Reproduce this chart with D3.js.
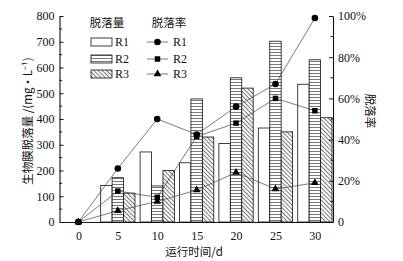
<!DOCTYPE html>
<html>
<head>
<meta charset="utf-8">
<script src="https://cdn.jsdelivr.net/npm/d3@7"></script>
<style>
  body { margin: 0; background: #fff; }
  text { font-family: "Liberation Serif", "Times New Roman", serif; fill: #111; }
  .cjk { font-family: "Noto Sans CJK SC", sans-serif; }
</style>
</head>
<body>
<div id="chart"></div>
<script>
// data
const days = [0, 5, 10, 15, 20, 25, 30];
const barDays = [5, 10, 15, 20, 25, 30];
const amountR1 = [142, 272, 230, 305, 365, 535];
const amountR2 = [172, 140, 478, 560, 702, 630];
const amountR3 = [112, 200, 330, 520, 350, 405];
const rateR1 = [0, 26, 50, 42.5, 56, 67, 99];
const rateR2 = [0, 15, 12, 41.5, 48, 60, 54];
const rateR3 = [0, 5.5, 10, 15.5, 24, 16, 19];
const seriesNames = ["R1", "R2", "R3"];
const leftTicks = [0, 100, 200, 300, 400, 500, 600, 700, 800];
const rightTicks = [0, 20, 40, 60, 80, 100];

const W = 403, H = 261;

let svg = d3.select("#chart").append("svg")
    .attr("width", W)
    .attr("height", H);

let defs = svg.append("defs");

let hp = defs.append("pattern")
    .attr("id", "hlines")
    .attr("patternUnits", "userSpaceOnUse")
    .attr("width", 6).attr("height", 3);
hp.append("rect").attr("width", 6).attr("height", 3).attr("fill", "#fff");
hp.append("line").attr("x1", 0).attr("x2", 6).attr("y1", 1.5).attr("y2", 1.5)
    .attr("stroke", "#555").attr("stroke-width", 0.8);

let dp = defs.append("pattern")
    .attr("id", "dlines")
    .attr("patternUnits", "userSpaceOnUse")
    .attr("width", 3).attr("height", 3)
    .attr("patternTransform", "rotate(-45)");
dp.append("rect").attr("width", 3).attr("height", 3).attr("fill", "#fff");
dp.append("line").attr("x1", 1.5).attr("x2", 1.5).attr("y1", 0).attr("y2", 3)
    .attr("stroke", "#555").attr("stroke-width", 0.8);

const fills = ["#fff", "url(#hlines)", "url(#dlines)"];

let x = d3.scaleLinear().domain([-2.4, 32.3]).range([59.5, 333]);
let y = d3.scaleLinear().domain([0, 800]).range([222, 16]);
let yr = d3.scaleLinear().domain([0, 100]).range([222, 16]);

// bars
const bw = 1.45;
const amounts = [amountR1, amountR2, amountR3];
amounts.forEach((vals, i) => {
    svg.append("g").selectAll("rect")
        .data(vals)
        .join("rect")
        .attr("x", (d, j) => x(barDays[j] + (i - 1) * bw - bw / 2))
        .attr("width", x(bw) - x(0))
        .attr("y", d => y(d))
        .attr("height", d => y(0) - y(d))
        .attr("fill", fills[i])
        .attr("stroke", "#111")
        .attr("stroke-width", 0.8);
});

// rate lines
const rates = [rateR1, rateR2, rateR3];
let line = d3.line()
    .x((d, j) => x(days[j]))
    .y(d => yr(d));

rates.forEach(vals => {
    svg.append("path")
        .datum(vals)
        .attr("d", line)
        .attr("fill", "none")
        .attr("stroke", "#444")
        .attr("stroke-width", 0.7);
});

const symbols = [
    d3.symbol().type(d3.symbolCircle).size(34),
    d3.symbol().type(d3.symbolSquare).size(30),
    d3.symbol().type(d3.symbolTriangle).size(26)
];
rates.forEach((vals, i) => {
    svg.append("g").selectAll("path")
        .data(vals)
        .join("path")
        .attr("d", symbols[i])
        .attr("transform", (d, j) => "translate(" + x(days[j]) + "," + yr(d) + ")")
        .attr("fill", "#000");
});

// axes
let leftAxis = svg.append("g")
    .attr("transform", "translate(" + x.range()[0] + ",0)")
    .call(d3.axisLeft(y).tickValues(leftTicks).tickSizeInner(-4).tickSizeOuter(0).tickPadding(5));
leftAxis.append("g").selectAll("line")
    .data(d3.range(50, 800, 100))
    .join("line")
    .attr("x1", 0).attr("x2", 2.5)
    .attr("y1", d => y(d)).attr("y2", d => y(d))
    .attr("stroke", "#111");

let rightAxis = svg.append("g")
    .attr("transform", "translate(" + x.range()[1] + ",0)")
    .call(d3.axisRight(yr).tickValues(rightTicks).tickSizeInner(-4).tickSizeOuter(0).tickPadding(5)
        .tickFormat(d => d === 0 ? "0" : d + "%"));
rightAxis.append("g").selectAll("line")
    .data(d3.range(10, 100, 20))
    .join("line")
    .attr("x1", 0).attr("x2", -2.5)
    .attr("y1", d => yr(d)).attr("y2", d => yr(d))
    .attr("stroke", "#111");

let bottomAxis = svg.append("g")
    .attr("transform", "translate(0," + y(0) + ")")
    .call(d3.axisBottom(x).tickValues(days).tickSize(0).tickPadding(9).tickSizeOuter(0));

[leftAxis, rightAxis, bottomAxis].forEach(a => {
    a.selectAll("text").style("font-family", "'Liberation Serif', serif").style("font-size", "12px").attr("fill", "#111");
    a.selectAll("path, line").attr("stroke", "#111");
    a.select(".domain").attr("stroke-width", 1.1);
});

// axis titles
svg.append("text")
    .attr("class", "cjk")
    .attr("transform", "translate(27,121) rotate(-90)")
    .attr("text-anchor", "middle")
    .attr("dominant-baseline", "central")
    .style("font-size", "11.5px")
    .text("生物膜脱落量 /(mg·L⁻¹)");

svg.append("text")
    .attr("class", "cjk")
    .attr("transform", "translate(371,111) rotate(90)")
    .attr("text-anchor", "middle")
    .attr("dominant-baseline", "central")
    .style("font-size", "11.5px")
    .text("脱落率");

svg.append("text")
    .attr("class", "cjk")
    .attr("x", 194).attr("y", 251)
    .attr("text-anchor", "middle")
    .attr("dominant-baseline", "central")
    .style("font-size", "11.5px")
    .text("运行时间/d");

// legend: amount
svg.append("text")
    .attr("class", "cjk")
    .attr("x", 107).attr("y", 22)
    .attr("text-anchor", "middle")
    .attr("dominant-baseline", "central")
    .style("font-size", "11.5px")
    .text("脱落量");

const rowY = [42, 59, 74];
seriesNames.forEach((name, i) => {
    svg.append("rect")
        .attr("x", 91).attr("y", rowY[i] - 4)
        .attr("width", 21).attr("height", 8)
        .attr("fill", fills[i])
        .attr("stroke", "#111").attr("stroke-width", 0.8);
    svg.append("text")
        .attr("x", 115).attr("y", rowY[i])
        .attr("dominant-baseline", "central")
        .style("font-size", "12px")
        .text(name);
});

// legend: rate
svg.append("text")
    .attr("class", "cjk")
    .attr("x", 169).attr("y", 22)
    .attr("text-anchor", "middle")
    .attr("dominant-baseline", "central")
    .style("font-size", "11.5px")
    .text("脱落率");

seriesNames.forEach((name, i) => {
    svg.append("line")
        .attr("x1", 147).attr("x2", 168)
        .attr("y1", rowY[i]).attr("y2", rowY[i])
        .attr("stroke", "#444").attr("stroke-width", 0.7);
    svg.append("path")
        .attr("d", symbols[i])
        .attr("transform", "translate(157.5," + rowY[i] + ")")
        .attr("fill", "#000");
    svg.append("text")
        .attr("x", 173).attr("y", rowY[i])
        .attr("dominant-baseline", "central")
        .style("font-size", "12px")
        .text(name);
});
</script>
</body>
</html>
